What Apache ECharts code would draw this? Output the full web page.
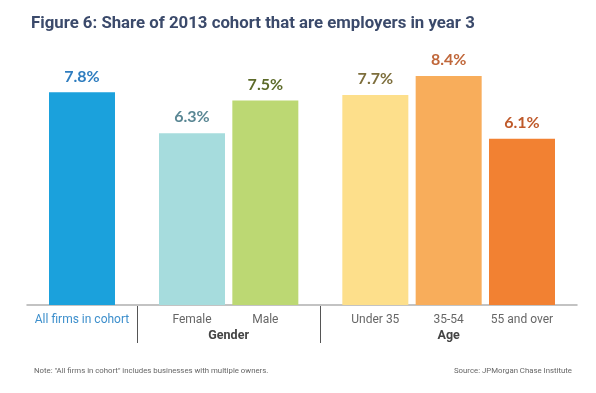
<!DOCTYPE html>
<html>
<head>
<meta charset="utf-8">
<script src="https://cdn.jsdelivr.net/npm/echarts@6/dist/echarts.min.js"></script>
<style>html,body{margin:0;padding:0;background:#fff}#c{width:596px;height:393px}</style>
</head>
<body>
<div id="c"></div>
<script>
// Categories (blank strings are spacer slots between groups)
var categories = ['', 'All firms in cohort', '', '', 'Female', '', 'Male', '', '', 'Under 35', '', '35-54', '', '55 and over', ''];
var values = [null, 7.8, null, null, 6.3, null, 7.5, null, null, 7.7, null, 8.4, null, 6.1, null];
var groupLabels = ['', '', '', '', '', 'Gender', '', '', '', '', '', 'Age', '', '', ''];
var separatorIndices = [3, 8];
var barColors = [null, '#1ba1dc', null, null, '#a6dcdd', null, '#bcd873', null, null, '#fddf8b', null, '#f8ad5b', null, '#f28132', null];
var labelColors = [null, '#2f7dbf', null, null, '#5a8794', null, '#5d6b2a', null, null, '#7d6e3c', null, '#c0673a', null, '#bf5a2b', null];

var font = 'Roboto, sans-serif';

var seriesData = values.map(function (v, i) {
  if (v === null) return '-';
  return {
    value: v,
    itemStyle: { color: barColors[i] },
    label: { color: labelColors[i] }
  };
});
var catData = categories.map(function (c, i) {
  return i === 1 ? { value: c, textStyle: { color: '#3d8fcc' } } : c;
});

var chart = echarts.init(document.getElementById('c'), null, { renderer: 'canvas' });
chart.setOption({
  animation: false,
  backgroundColor: '#fff',
  title: [
    { text: 'Figure 6: Share of 2013 cohort that are employers in year 3', left: 26, top: 10,
      textStyle: { fontFamily: font, fontSize: 16.8, fontWeight: 'bold', color: '#3b4a6b' } },
    { text: 'Note: "All firms in cohort" includes businesses with multiple owners.', left: 29, top: 362,
      textStyle: { fontFamily: font, fontSize: 7.8, fontWeight: 'normal', color: '#666' } },
    { text: 'Source: JPMorgan Chase Institute', right: 19, top: 362,
      textStyle: { fontFamily: font, fontSize: 7.8, fontWeight: 'normal', color: '#666' } }
  ],
  grid: { left: 27, right: 19, top: 32.4, bottom: 88, containLabel: false },
  xAxis: [
    {
      type: 'category', data: catData, boundaryGap: true,
      axisLine: { show: true, lineStyle: { color: '#b0b0b0', width: 1.5 } },
      axisTick: { show: false },
      axisLabel: { interval: 0, margin: 9, fontFamily: font, fontSize: 12, color: '#666' }
    },
    {
      type: 'category', data: groupLabels, position: 'bottom', boundaryGap: true,
      axisLine: { show: false },
      axisTick: { show: false },
      axisLabel: { interval: 0, margin: 24, fontFamily: font, fontSize: 12.5, fontWeight: 'bold', color: '#444' }
    }
  ],
  yAxis: { type: 'value', min: 0, max: 10, show: false, splitLine: { show: false } },
  series: [{
    type: 'bar', data: seriesData, barWidth: 66, xAxisIndex: 0,
    label: { show: true, position: 'top', distance: 8, fontFamily: 'Lato, sans-serif', fontSize: 16, fontWeight: 'bold',
      formatter: function (p) { return p.value.toFixed(1) + '%'; } }
  }, {
    type: 'custom', xAxisIndex: 0, clip: false, silent: true,
    data: separatorIndices.map(function (i) { return [i, 0]; }),
    renderItem: function (params, api) {
      var p = api.coord([api.value(0), api.value(1)]);
      var half = api.size([1, 0])[0] / 2;
      var x = Math.round(p[0] - half) + 0.5;
      return { type: 'line', shape: { x1: x, y1: p[1] + 1, x2: x, y2: p[1] + 38 },
        style: { stroke: '#555', lineWidth: 1 } };
    }
  }]
});
</script>
</body>
</html>
